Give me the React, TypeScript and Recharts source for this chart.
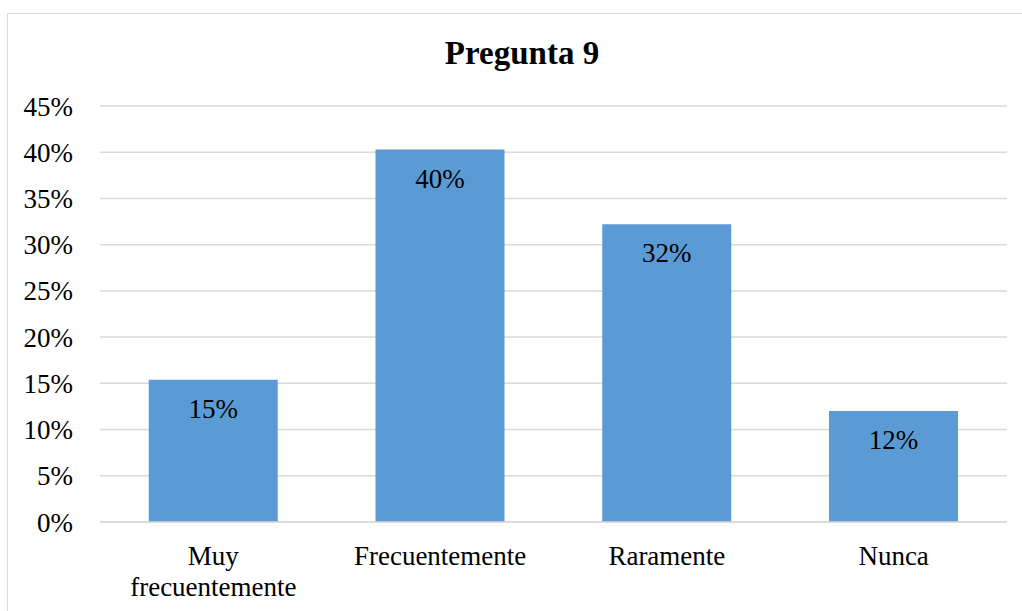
import { BarChart, Bar, XAxis, YAxis, CartesianGrid, LabelList } from 'recharts'

const categories = ['Muy frecuentemente', 'Frecuentemente', 'Raramente', 'Nunca']
const percentages = [15.4, 40.3, 32.2, 12.0]
const yTicks = [0, 5, 10, 15, 20, 25, 30, 35, 40, 45]

const data = categories.map((name, i) => ({ name, value: percentages[i] }))

const FONT = '"Liberation Serif", "Times New Roman", serif'
const BLUE = '#5B9BD5'
const GRID = '#D9D9D9'

function CategoryTick(props: any) {
  const { x, y, payload } = props
  const label: string = payload.value
  // long labels wrap onto two lines like the original
  const lines = label.length > 15 ? label.split(' ') : [label]
  return (
    <text x={x} y={y} textAnchor="middle" fill="#000" fontSize={27} fontFamily={FONT}>
      {lines.map((l, i) => (
        <tspan key={i} x={x} dy={i === 0 ? '0.71em' : 31}>
          {l}
        </tspan>
      ))}
    </text>
  )
}

export default function App() {
  return (
    <div
      style={{
        position: 'absolute',
        left: 7,
        top: 13,
        width: 1014,
        height: 597,
        borderLeft: `1px solid ${GRID}`,
        borderTop: `1px solid ${GRID}`,
        background: '#fff',
      }}
    >
      <div
        style={{
          position: 'absolute',
          left: 214,
          top: 23,
          width: 600,
          textAlign: 'center',
          fontFamily: FONT,
          fontWeight: 'bold',
          fontSize: 33,
          lineHeight: '33px',
          color: '#000',
        }}
      >
        Pregunta 9
      </div>
      <BarChart
        width={1014}
        height={597}
        data={data}
        margin={{ top: 92, right: 15, bottom: 0, left: 0 }}
        barCategoryGap="21.5%"
      >
        <CartesianGrid vertical={false} stroke={GRID} strokeWidth={1.5} />
        <XAxis
          dataKey="name"
          height={89}
          axisLine={{ stroke: GRID, strokeWidth: 1.5 }}
          tickLine={false}
          tickSize={0}
          tickMargin={24}
          interval={0}
          tick={<CategoryTick />}
        />
        <YAxis
          width={92}
          domain={[0, 45]}
          ticks={yTicks}
          axisLine={false}
          tickLine={false}
          tickSize={0}
          tickMargin={27}
          tickFormatter={(v: number) => `${v}%`}
          tick={{ fill: '#000', fontSize: 27, fontFamily: FONT }}
        />
        <Bar dataKey="value" fill={BLUE} isAnimationActive={false}>
          <LabelList
            dataKey="value"
            position="insideTop"
            offset={19}
            formatter={(v: number) => `${Math.round(v)}%`}
            fill="#000"
            fontSize={27}
            fontFamily={FONT}
          />
        </Bar>
      </BarChart>
    </div>
  )
}
